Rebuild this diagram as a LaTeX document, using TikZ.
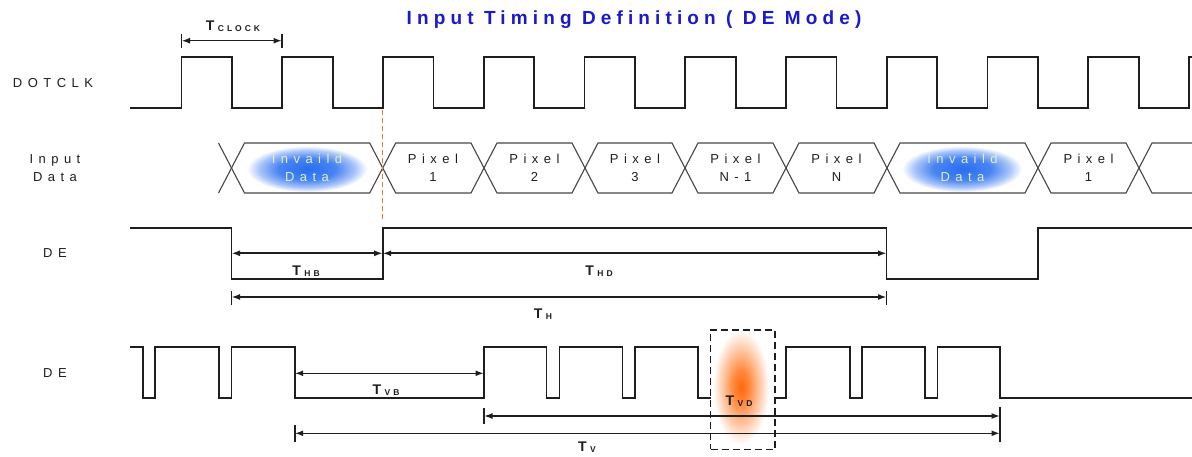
\documentclass[tikz,border=0pt]{standalone}
\usepackage{fontspec}
\setmainfont{Liberation Sans}
\usetikzlibrary{arrows.meta}
\definecolor{wave}{RGB}{30,30,30}
\definecolor{datal}{RGB}{70,70,70}
\definecolor{ttl}{RGB}{25,25,205}
\definecolor{orng}{RGB}{235,120,50}
\definecolor{invtxt}{RGB}{222,240,192}
\definecolor{gblue}{RGB}{40,110,240}
\definecolor{gorange}{RGB}{255,105,10}
\pgfdeclareradialshading{blueglow}{\pgfpoint{0bp}{0bp}}{color(0bp)=(gblue); color(12bp)=(gblue!85!white); color(20bp)=(gblue!40!white); color(25bp)=(white); color(50bp)=(white)}
\pgfdeclareradialshading{orangeglow}{\pgfpoint{0bp}{0bp}}{color(0bp)=(gorange); color(7bp)=(gorange!80!white); color(17bp)=(gorange!35!white); color(25bp)=(white); color(50bp)=(white)}
\newcommand\Tlab[1]{\fontsize{14}{16}\selectfont\bfseries T\hspace{3.5pt}\raisebox{-1pt}{\fontsize{8.5}{10}\selectfont\addfontfeature{LetterSpace=35}#1}}
\tikzset{
  wv/.style={draw=wave, line width=1.7pt, line join=miter},
  dl/.style={draw=datal, line width=1.1pt, line join=miter},
  lbl/.style={font=\fontsize{13}{18}\selectfont\addfontfeature{LetterSpace=42}, text=wave, inner sep=0pt, align=center},
  invl/.style={lbl, text=invtxt},
  tl/.style={text=wave, inner sep=0pt},
  dim/.style={draw=wave, line width=1.6pt, {Latex[length=8.5pt,width=6pt]}-{Latex[length=8.5pt,width=6pt]}},
  tick/.style={draw=wave, line width=1.6pt},
}
\begin{document}
\begin{tikzpicture}[x=1pt,y=-1pt]
\useasboundingbox (0,0) rectangle (1192,457);
\clip (0,0) rectangle (1192,457);
% glows
\shade[shading=blueglow] (307,169) ellipse [x radius=60, y radius=23];
\shade[shading=blueglow] (962,169) ellipse [x radius=60, y radius=23];
\shade[shading=orangeglow] (741,387) ellipse [x radius=28, y radius=57];
% title
\node[text=ttl, inner sep=0pt, font=\fontsize{19}{21}\selectfont\bfseries\addfontfeature{LetterSpace=27}] (title) at (634,20) {Input Timing Definition ( DE Mode)};
% left labels
\node[lbl] (ldot) at (53,83) {DOTCLK};
\node[lbl] (ldata) at (55,168) {Input\\Data};
\node[lbl] (lde1) at (55,253) {DE};
\node[lbl] (lde2) at (55,373) {DE};
% DOTCLK
\draw[wv] (130,108) foreach \k in {0,...,10} { -- ({181.5+100.75*\k},108) -- ({181.5+100.75*\k},57.3) -- ({232+100.75*\k},57.3) -- ({232+100.75*\k},108) };
% T_CLOCK
\coordinate (ck1) at (181.5,40.7);
\coordinate (ck2) at (282,40.7);
\draw[tick] (181.5,34.5) -- (181.5,48);
\draw[tick] (282,34.5) -- (282,48);
\draw[dim] (ck1) -- (ck2);
\node[tl] (tclock) at (233,26) {\Tlab{CLOCK}};
% Input data
\draw[dl] (218.5,143) -- (231.5,168) -- (218.5,193);
\foreach \a/\b in {231.5/382.7, 382.7/484, 484/585, 585/685, 685/786, 786/887, 887/1038, 1038/1139}
  \draw[dl] (\a,168) -- (\a+13,143) -- (\b-13,143) -- (\b,168) -- (\b-13,193) -- (\a+13,193) -- cycle;
\draw[dl] (1192,143) -- (1152,143) -- (1139,168) -- (1152,193) -- (1192,193);
\node[invl] (inv1) at (307,168) {Invaild\\Data};
\node[lbl] (p1) at (433,168) {Pixel\\1};
\node[lbl] (p2) at (534.5,168) {Pixel\\2};
\node[lbl] (p3) at (635,168) {Pixel\\3};
\node[lbl] (pn1) at (735.5,168) {Pixel\\N-1};
\node[lbl] (pn) at (836.5,168) {Pixel\\N};
\node[invl] (inv2) at (962.5,168) {Invaild\\Data};
\node[lbl] (p1b) at (1088.5,168) {Pixel\\1};
% orange dashed marker
\coordinate (mk1) at (382.7,110);
\coordinate (mk2) at (382.7,219);
\draw[orng, line width=1.5pt, dash pattern=on 5pt off 3pt] (mk1) -- (mk2);
% DE row 1
\draw[wv] (130,227.7) -- (231.5,227.7) -- (231.5,279.3) -- (382.7,279.3) -- (382.7,227.7) -- (886.6,227.7) -- (886.6,279.3) -- (1037.8,279.3) -- (1037.8,227.7) -- (1192,227.7);
\coordinate (hb1) at (231.5,253.3);
\coordinate (hb2) at (382.7,253.3);
\coordinate (hd2) at (886.6,253.3);
\draw[dim] (hb1) -- (hb2);
\draw[dim] (hb2) -- (hd2);
\node[tl] (thb) at (306,271) {\Tlab{HB}};
\node[tl] (thd) at (599,271) {\Tlab{HD}};
\coordinate (h1) at (231.5,297);
\coordinate (h2) at (886.6,297);
\draw[tick] (231.5,291) -- (231.5,304.5);
\draw[tick] (886.6,291) -- (886.6,304.5);
\draw[dim] (h1) -- (h2);
\node[tl] (th) at (543,314) {\Tlab{H}};
% DE row 2
\draw[wv] (130,347.3) -- (142.7,347.3) -- (142.7,398.3) -- (155,398.3) -- (155,347.3) -- (219,347.3) -- (219,398.3) -- (231.5,398.3) -- (231.5,347.3) -- (294.7,347.3) -- (294.7,398.3) -- (484,398.3) -- (484,347.3) -- (546.5,347.3) -- (546.5,398.3) -- (559.5,398.3) -- (559.5,347.3) -- (622.5,347.3) -- (622.5,398.3) -- (635,398.3) -- (635,347.3) -- (698,347.3) -- (698,398.3) -- (710.5,398.3);
\draw[wv] (775,398.3) -- (786,398.3) -- (786,347.3) -- (850,347.3) -- (850,398.3) -- (862,398.3) -- (862,347.3) -- (925,347.3) -- (925,398.3) -- (937.5,398.3) -- (937.5,347.3) -- (1000,347.3) -- (1000,398.3) -- (1192,398.3);
\coordinate (vb1) at (294.7,373.3);
\coordinate (vb2) at (484,373.3);
\draw[dim] (vb1) -- (vb2);
\node[tl] (tvb) at (386,390) {\Tlab{VB}};
\coordinate (vd1) at (484,416);
\coordinate (vd2) at (1000,416);
\coordinate (v1) at (294.7,433.3);
\coordinate (v2) at (1000,433.3);
\draw[tick] (484,408) -- (484,424);
\draw[tick] (1000,407) -- (1000,442);
\draw[tick] (294.7,425) -- (294.7,442);
\draw[dim] (vd1) -- (vd2);
\draw[dim] (v1) -- (v2);
\node[tl] (tv) at (587,447) {\Tlab{V}};
\node[draw=wave, line width=1.5pt, dash pattern=on 7pt off 4pt, minimum width=64.5pt, minimum height=119.5pt, inner sep=0pt] (box) at (742.8,389.7) {};
\node[tl] (tvd) at (739,401) {\Tlab{VD}};
\end{tikzpicture}
\end{document}
